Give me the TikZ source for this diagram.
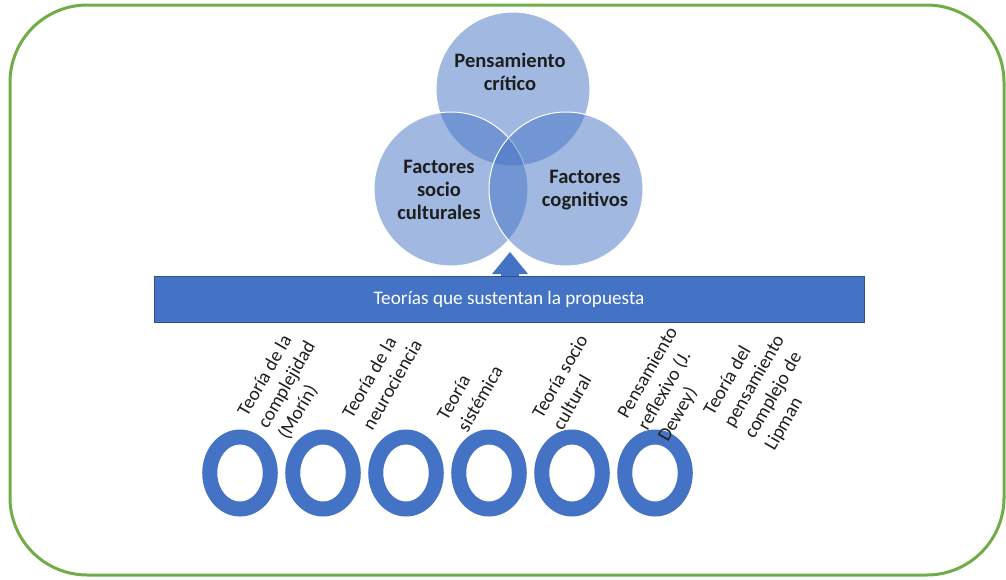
\documentclass[tikz,border=0pt]{standalone}
\usepackage{fontspec}
\setmainfont{Carlito}
\usetikzlibrary{positioning, shapes.geometric, arrows.meta}
\definecolor{officeblue}{RGB}{68,114,196}
\definecolor{officedark}{RGB}{47,82,143}
\definecolor{officegreen}{RGB}{112,173,71}
\definecolor{textdark}{RGB}{30,30,30}

\begin{document}
\begin{tikzpicture}[x=0.75pt, y=-0.75pt,
	venn/.style={circle, minimum size=115.5pt, inner sep=0pt, fill=officeblue, fill opacity=0.5, draw=white, draw opacity=1, line width=0.75pt},
	venntext/.style={font=\fontsize{15.4}{17}\selectfont\bfseries, align=center, text=textdark},
	ring/.style={ellipse, minimum width=45.4pt, minimum height=54pt, inner sep=0pt, draw=officeblue, line width=11.25pt},
	theory/.style={font=\fontsize{14.4}{17.6}\selectfont, align=left, rotate=60, anchor=north west, inner sep=0pt, text=textdark},
	basebar/.style={rectangle, minimum width=532.5pt, minimum height=34.5pt, fill=officeblue, draw=officedark, line width=0.75pt, text=white, font=\fontsize{14.4}{17}\selectfont}]
		
		\useasboundingbox (0,0) rectangle (1006,579);
		
		% Frame
		\draw[officegreen, line width=2.25pt, rounded corners=58pt] (10,5) rectangle (1004,575);
		
		% Draw Shape
		\node[venn] (crit) at (513,89) {};
		\node[venn] (soc) at (451,189) {};
		\node[venn] (cog) at (566,189) {};
		
		\node[basebar] (bar) at (509,299) {Teorías que sustentan la propuesta};
		\coordinate (tip) at (510,252);
		\draw[officeblue, line width=13.5pt, -{Triangle[length=16.5pt, width=27pt, line width=0pt]}] (bar.north -| tip) -- (tip);
		
		\foreach \x [count=\i] in {240,323,406,489,572,655}
			\node[ring] (r\i) at (\x,473) {};
		
		% Labels
		\node[venntext] (critlbl) at (510,72) {Pensamiento\\crítico};
		\node[venntext] (soclbl) at (439,190) {Factores\\socio\\culturales};
		\node[venntext] (coglbl) at (585,190) {Factores\\cognitivos};
		
		\foreach \x/\y/\txt [count=\i] in {235.5/410.8/{Teoría de la\\complejidad\\(Morín)},
				340.5/412.8/{Teoría de la\\neurociencia},
				435.5/414.8/{Teoría\\sistémica},
				530.5/412.8/{Teoría socio\\cultural},
				615.5/412.8/{Pensamiento\\reflexivo (J.\\Dewey)},
				701.5/409.8/{Teoría del\\pensamiento\\complejo de\\Lipman}}
			\node[theory] (t\i) at (\x,\y) {\txt};
		
\end{tikzpicture}
\end{document}
